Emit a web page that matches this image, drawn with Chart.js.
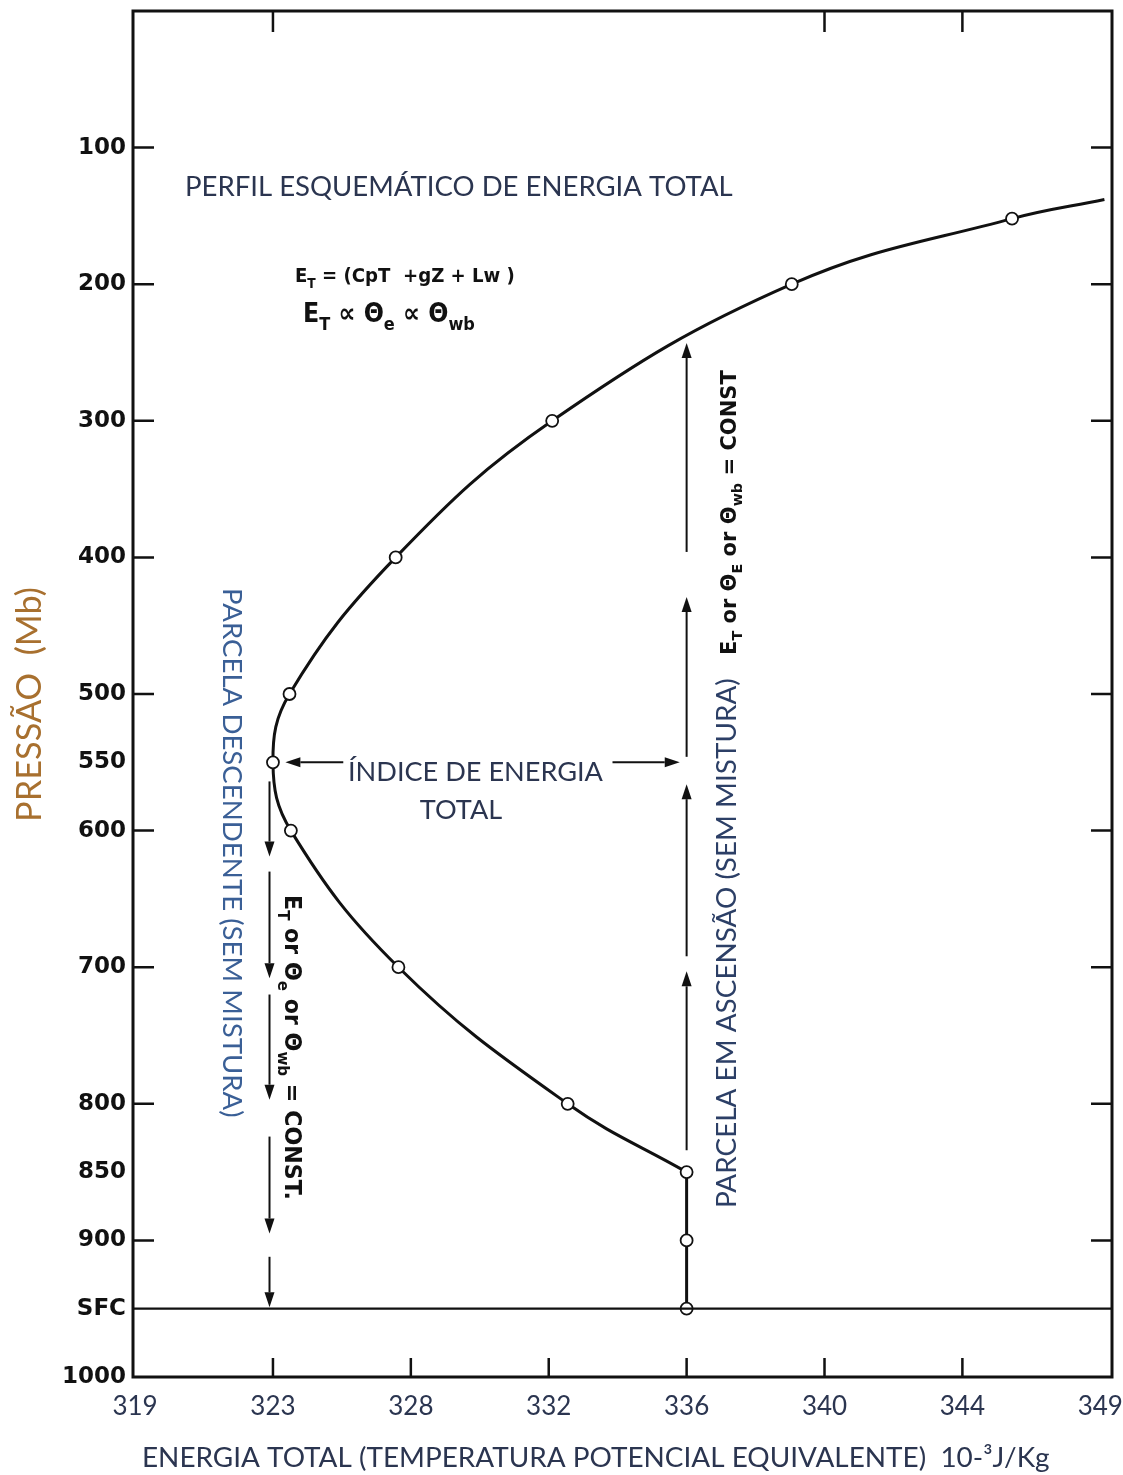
<!DOCTYPE html>
<html><head><meta charset="utf-8">
<script src="https://cdn.jsdelivr.net/npm/chart.js@4.4.0/dist/chart.umd.min.js"></script>
<style>html,body{margin:0;padding:0;background:#fff;}#wrap{width:1123px;height:1475px;}</style>
</head><body><div id="wrap"><canvas id="c" width="1123" height="1475"></canvas></div>
<script>
// ---- data ----
const xTickLabels = [319, 323, 328, 332, 336, 340, 344, 349];
const yTickValues = [100, 200, 300, 400, 500, 550, 600, 700, 800, 850, 900, 950, 1000];
const yTickNames = {950: 'SFC'};
const profileEnergy   = [349.15, 345.8, 339.05, 332.1, 327.45, 323.6, 323.0, 323.65, 327.55, 332.55, 336.0];
const profilePressure = [138,    152,   200,    300,   400,    500,   550,   600,    700,    800,    850];
const surfaceEnergy   = [336.0, 336.0, 336.0];
const surfacePressure = [850,   900,   950];
const descendEnergy = 322.9;
const descendArrows = [[564, 619], [630, 708], [720, 797], [824, 895], [912, 949]];
const ascendEnergy = 336.0;
const ascendArrows = [[834, 703], [692, 566], [546, 429], [396, 243]];
const indexArrowPressure = 550;
const indexArrows = [[325.55, 323.45], [333.85, 335.8]];
const surfacePressureLine = 950;
const innerTickPressures = [100, 200, 300, 400, 500, 600, 700, 800, 900];

// map an energy value onto the evenly spaced tick positions of the axis
function toIdx(e) {
  const L = xTickLabels;
  let i = 0;
  while (i < L.length - 2 && e > L[i + 1]) i++;
  return i + (e - L[i]) / (L[i + 1] - L[i]);
}

const NAVY = '#2b3550';

function fitSize(ctx, text, family, weight, target) {
  ctx.font = weight + ' 100px "' + family + '"';
  return 100 * target / ctx.measureText(text).width;
}
function richWidth(ctx, parts, size, family, weight) {
  let w = 0;
  for (const p of parts) {
    ctx.font = weight + ' ' + (p.s ? size * 0.68 : size) + 'px "' + family + '"';
    w += ctx.measureText(p.t).width;
  }
  return w;
}
function drawRich(ctx, parts, size, family, weight, x, y) {
  let cx = x;
  ctx.textAlign = 'left';
  ctx.textBaseline = 'alphabetic';
  for (const p of parts) {
    const sz = p.s ? size * 0.68 : size;
    ctx.font = weight + ' ' + sz + 'px "' + family + '"';
    ctx.fillText(p.t, cx, y + (p.s ? size * 0.3 : 0));
    cx += ctx.measureText(p.t).width;
  }
}
function fitRich(ctx, parts, family, weight, target) {
  return 100 * target / richWidth(ctx, parts, 100, family, weight);
}

const annot = {
  id: 'annot',
  afterDatasetsDraw(chart) {
    const ctx = chart.ctx;
    const xs = chart.scales.x, ys = chart.scales.y;
    const a = chart.chartArea;
    const X = e => xs.getPixelForValue(toIdx(e));
    const Y = p => ys.getPixelForValue(p);
    ctx.save();
    ctx.strokeStyle = '#111';
    ctx.fillStyle = '#111';
    ctx.lineCap = 'butt';
    // frame
    ctx.lineWidth = 3;
    ctx.strokeRect(a.left, a.top, a.right - a.left, a.bottom - a.top);
    // inner ticks
    ctx.lineWidth = 2.5;
    ctx.beginPath();
    for (const p of innerTickPressures) {
      const y = Y(p);
      ctx.moveTo(a.left, y); ctx.lineTo(a.left + 21, y);
      ctx.moveTo(a.right, y); ctx.lineTo(a.right - 21, y);
    }
    for (let i = 1; i <= 6; i++) {
      const x = xs.getPixelForValue(i);
      ctx.moveTo(x, a.bottom); ctx.lineTo(x, a.bottom - 19);
    }
    for (const i of [1, 5, 6]) {
      const x = xs.getPixelForValue(i);
      ctx.moveTo(x, a.top); ctx.lineTo(x, a.top + 21);
    }
    ctx.stroke();
    // surface line
    ctx.lineWidth = 2.2;
    ctx.beginPath();
    ctx.moveTo(a.left, Y(surfacePressureLine)); ctx.lineTo(a.right, Y(surfacePressureLine));
    ctx.stroke();
    // arrows
    function arrow(x1, y1, x2, y2) {
      const ang = Math.atan2(y2 - y1, x2 - x1);
      const hl = 15, hw = 5;
      const bx = x2 - hl * Math.cos(ang), by = y2 - hl * Math.sin(ang);
      ctx.lineWidth = 2;
      ctx.beginPath(); ctx.moveTo(x1, y1); ctx.lineTo(bx, by); ctx.stroke();
      ctx.beginPath();
      ctx.moveTo(x2, y2);
      ctx.lineTo(bx + hw * Math.sin(ang), by - hw * Math.cos(ang));
      ctx.lineTo(bx - hw * Math.sin(ang), by + hw * Math.cos(ang));
      ctx.closePath(); ctx.fill();
    }
    for (const [p1, p2] of descendArrows) arrow(X(descendEnergy), Y(p1), X(descendEnergy), Y(p2));
    for (const [p1, p2] of ascendArrows) arrow(X(ascendEnergy), Y(p1), X(ascendEnergy), Y(p2));
    for (const [e1, e2] of indexArrows) arrow(X(e1), Y(indexArrowPressure), X(e2), Y(indexArrowPressure));

    // ---- texts ----
    const CAL = 'Lato';
    let t = 'PERFIL ESQUEMÁTICO DE ENERGIA TOTAL';
    let s = fitSize(ctx, t, CAL, 'normal', 548);
    ctx.fillStyle = NAVY; ctx.font = s + 'px "' + CAL + '"';
    ctx.textAlign = 'left'; ctx.textBaseline = 'alphabetic';
    ctx.fillText(t, 185, 196);
    t = 'ÍNDICE DE ENERGIA';
    s = fitSize(ctx, t, CAL, 'normal', 255);
    ctx.font = s + 'px "' + CAL + '"';
    ctx.fillText(t, 348, 781);
    ctx.textAlign = 'center';
    ctx.fillText('TOTAL', 461, 819);
    t = 'ENERGIA TOTAL (TEMPERATURA POTENCIAL EQUIVALENTE)  10-³J/Kg';
    s = fitSize(ctx, t, CAL, 'normal', 908);
    ctx.font = s + 'px "' + CAL + '"';
    ctx.textAlign = 'left';
    ctx.fillText(t, 142, 1467);
    t = 'PRESSÃO  (Mb)';
    s = fitSize(ctx, t, CAL, 'normal', 235);
    ctx.save(); ctx.translate(30, 822); ctx.rotate(-Math.PI / 2);
    ctx.fillStyle = '#a8702f'; ctx.font = s + 'px "' + CAL + '"';
    ctx.textBaseline = 'middle'; ctx.fillText(t, 0, 0); ctx.restore();
    t = 'PARCELA DESCENDENTE (SEM MISTURA)';
    s = fitSize(ctx, t, CAL, 'normal', 530);
    ctx.save(); ctx.translate(232, 588); ctx.rotate(Math.PI / 2);
    ctx.fillStyle = '#3a5f96'; ctx.font = s + 'px "' + CAL + '"';
    ctx.textBaseline = 'middle'; ctx.fillText(t, 0, 0); ctx.restore();
    t = 'PARCELA EM ASCENSÃO (SEM MISTURA)';
    s = fitSize(ctx, t, CAL, 'normal', 530);
    ctx.save(); ctx.translate(727, 1208); ctx.rotate(-Math.PI / 2);
    ctx.fillStyle = '#2c3f66'; ctx.font = s + 'px "' + CAL + '"';
    ctx.textBaseline = 'middle'; ctx.fillText(t, 0, 0); ctx.restore();

    // formulas
    const DJC = 'DejaVu Sans Condensed';
    const DJ = 'DejaVu Sans';
    ctx.fillStyle = '#111';
    const f1 = [{t: 'E'}, {t: 'T', s: 1}, {t: ' = (CpT  +gZ + Lw )'}];
    s = fitRich(ctx, f1, DJC, 'bold', 220);
    drawRich(ctx, f1, s, DJC, 'bold', 295, 282);
    const f2 = [{t: 'E'}, {t: 'T', s: 1}, {t: ' ∝ Θ'}, {t: 'e', s: 1}, {t: ' ∝ Θ'}, {t: 'wb', s: 1}];
    s = fitRich(ctx, f2, DJC, 'bold', 172);
    drawRich(ctx, f2, s, DJC, 'bold', 303, 322);
    const c1 = [{t: 'E'}, {t: 'T', s: 1}, {t: ' or Θ'}, {t: 'e', s: 1}, {t: ' or Θ'}, {t: 'wb', s: 1}, {t: ' = CONST.'}];
    s = fitRich(ctx, c1, DJ, 'bold', 305);
    ctx.save(); ctx.translate(293, 895); ctx.rotate(Math.PI / 2);
    drawRich(ctx, c1, s, DJ, 'bold', 0, s * 0.36); ctx.restore();
    const c2 = [{t: 'E'}, {t: 'T', s: 1}, {t: ' or Θ'}, {t: 'E', s: 1}, {t: ' or Θ'}, {t: 'wb', s: 1}, {t: ' = CONST'}];
    s = fitRich(ctx, c2, DJ, 'bold', 285);
    ctx.save(); ctx.translate(728, 655); ctx.rotate(-Math.PI / 2);
    drawRich(ctx, c2, s, DJ, 'bold', 0, s * 0.36); ctx.restore();
    ctx.restore();
  }
};

new Chart(document.getElementById('c'), {
  type: 'line',
  data: {
    datasets: [
      {
        data: profileEnergy.map((e, i) => ({x: toIdx(e), y: profilePressure[i]})),
        borderColor: '#111', borderWidth: 3, tension: 0.4, fill: false,
        pointRadius: profileEnergy.map((e, i) => i === 0 ? 0 : 6),
        pointBackgroundColor: '#fff', pointBorderColor: '#111', pointBorderWidth: 1.8
      },
      {
        data: surfaceEnergy.map((e, i) => ({x: toIdx(e), y: surfacePressure[i]})),
        borderColor: '#111', borderWidth: 3, tension: 0, fill: false,
        pointRadius: [0, 6, 6],
        pointBackgroundColor: '#fff', pointBorderColor: '#111', pointBorderWidth: 1.8
      }
    ]
  },
  options: {
    responsive: false, animation: false,
    layout: {padding: {left: 0, top: 11, right: 11, bottom: 0}},
    plugins: {legend: {display: false}, tooltip: {enabled: false}},
    scales: {
      x: {
        type: 'linear', min: -0.015, max: 7.085,
        afterBuildTicks: sc => { sc.ticks = xTickLabels.map((_, i) => ({value: i})); },
        ticks: {callback: v => String(xTickLabels[v]), font: {family: 'Lato', size: 26}, color: NAVY, padding: 14, maxRotation: 0, autoSkip: false},
        grid: {display: false, drawTicks: false}, border: {display: false},
        afterFit: sc => { sc.height = 98; sc.paddingLeft = 0; sc.paddingRight = 0; }
      },
      y: {
        type: 'linear', reverse: true, min: 0, max: 1000,
        afterBuildTicks: sc => { sc.ticks = yTickValues.map(v => ({value: v})); },
        ticks: {callback: v => yTickNames[v] || String(v), font: {family: 'DejaVu Sans', weight: 'bold', size: 23}, color: '#111', padding: 7, autoSkip: false},
        grid: {display: false, drawTicks: false}, border: {display: false},
        afterFit: sc => { sc.width = 133; sc.paddingTop = 0; sc.paddingBottom = 0; }
      }
    }
  },
  plugins: [annot]
});
</script>
</body></html>
